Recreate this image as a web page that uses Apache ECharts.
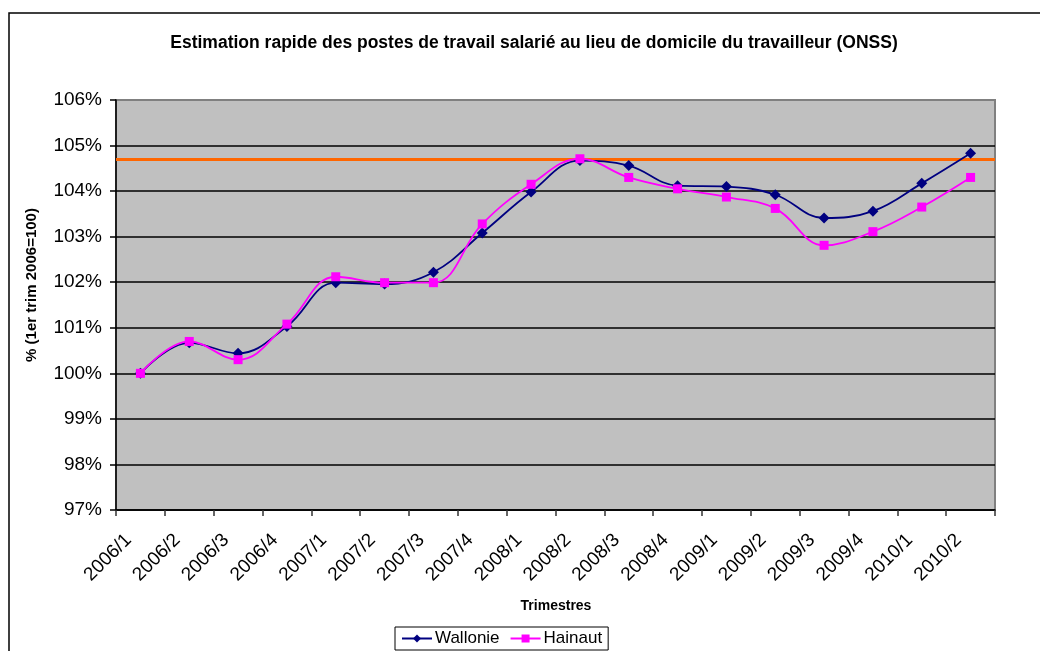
<!DOCTYPE html>
<html>
<head>
<meta charset="utf-8">
<title>Estimation rapide des postes de travail salarié</title>
<script src="https://cdn.jsdelivr.net/npm/echarts@6/dist/echarts.min.js"></script>
<style>
  html, body { margin: 0; padding: 0; background: #fff; }
  #chart { width: 1040px; height: 651px; }
</style>
</head>
<body>
<div id="chart"></div>
<script>
// trimestres
var categories = ['2006/1', '2006/2', '2006/3', '2006/4', '2007/1', '2007/2', '2007/3', '2007/4',
  '2008/1', '2008/2', '2008/3', '2008/4', '2009/1', '2009/2', '2009/3', '2009/4', '2010/1', '2010/2'];

// indices (1er trim 2006 = 100)
var wallonie = [100.0, 100.67, 100.44, 101.03, 101.99, 101.96, 102.22, 103.08,
  103.98, 104.67, 104.56, 104.12, 104.10, 103.92, 103.41, 103.56, 104.17, 104.83];
var hainaut = [100.0, 100.70, 100.30, 101.08, 102.12, 101.99, 101.99, 103.28,
  104.15, 104.71, 104.30, 104.05, 103.87, 103.62, 102.81, 103.11, 103.65, 104.30];

// niveau de référence (ligne orange)
var refLevel = [104.7];

// graduations de l'axe Y
var yTicks = [97, 98, 99, 100, 101, 102, 103, 104, 105, 106];

var FONT = '"Liberation Sans", Arial, sans-serif';

var chart = echarts.init(document.getElementById('chart'), null, { renderer: 'canvas' });

// la dernière ligne (106%) se confond avec le bord gris de la zone de traçage
var gridColors = yTicks.map(function (v, i) {
  return i === yTicks.length - 1 ? '#808080' : '#000000';
});

chart.setOption({
  backgroundColor: '#ffffff',
  animation: false,
  textStyle: { fontFamily: FONT },
  graphic: [
    {
      type: 'rect',
      shape: { x: 9, y: 13, width: 1100, height: 700 },
      style: { fill: 'none', stroke: '#000', lineWidth: 1.5 },
      z: 0
    },
    {
      type: 'text',
      x: 534, y: 43,
      style: {
        text: 'Estimation rapide des postes de travail salarié au lieu de domicile du travailleur (ONSS)',
        font: 'bold 17.5px ' + FONT,
        fill: '#000',
        align: 'center',
        verticalAlign: 'middle'
      }
    },
    {
      type: 'text',
      x: 32, y: 285,
      rotation: Math.PI / 2,
      style: {
        text: '% (1er trim 2006=100)',
        font: 'bold 15px ' + FONT,
        fill: '#000',
        align: 'center',
        verticalAlign: 'middle'
      }
    },
    {
      type: 'text',
      x: 556, y: 606,
      style: {
        text: 'Trimestres',
        font: 'bold 14px ' + FONT,
        fill: '#000',
        align: 'center',
        verticalAlign: 'middle'
      }
    }
  ],
  legend: {
    left: 395,
    top: 627,
    orient: 'horizontal',
    borderColor: '#000',
    borderWidth: 1,
    padding: [3, 6, 3, 6],
    itemWidth: 30,
    itemHeight: 10,
    itemGap: 10,
    textStyle: { fontFamily: FONT, fontSize: 17, color: '#000', padding: [0, 0, 0, -2] },
    data: ['Wallonie', 'Hainaut']
  },
  grid: {
    left: 116,
    top: 100,
    right: 45,
    bottom: 141,
    show: true,
    backgroundColor: '#c0c0c0',
    borderColor: '#808080',
    borderWidth: 2,
    containLabel: false
  },
  xAxis: {
    type: 'category',
    data: categories,
    boundaryGap: true,
    axisLine: { lineStyle: { color: '#000', width: 1.5 } },
    axisTick: { show: true, length: 6, inside: false, lineStyle: { color: '#333', width: 1.5 } },
    axisLabel: {
      rotate: 45,
      interval: 0,
      margin: 15,
      padding: [0, 17, 0, 0],
      fontFamily: FONT,
      fontSize: 19,
      color: '#000'
    },
    splitLine: { show: false }
  },
  yAxis: {
    type: 'value',
    min: yTicks[0],
    max: yTicks[yTicks.length - 1],
    interval: 1,
    axisLine: { show: true, lineStyle: { color: '#000', width: 1.5 } },
    axisTick: { show: true, length: 6, lineStyle: { color: '#000', width: 1.5 } },
    axisLabel: {
      formatter: '{value}%',
      margin: 14,
      fontFamily: FONT,
      fontSize: 19,
      color: '#000'
    },
    splitLine: { show: true, lineStyle: { color: gridColors, width: 1.5 } }
  },
  series: [
    {
      name: 'Wallonie',
      type: 'line',
      data: wallonie,
      smooth: 0.4,
      symbol: 'diamond',
      symbolSize: 11,
      color: '#000080',
      lineStyle: { color: '#000080', width: 1.8 },
      itemStyle: { color: '#000080' },
      z: 3,
      markLine: {
        silent: true,
        symbol: ['none', 'none'],
        label: { show: false },
        lineStyle: { color: '#ff6600', width: 3, type: 'solid' },
        data: [{ yAxis: refLevel[0] }],
        z: 2
      }
    },
    {
      name: 'Hainaut',
      type: 'line',
      data: hainaut,
      smooth: 0.4,
      symbol: 'rect',
      symbolSize: 9,
      color: '#ff00ff',
      lineStyle: { color: '#ff00ff', width: 1.8 },
      itemStyle: { color: '#ff00ff' },
      z: 4
    }
  ]
});
</script>
</body>
</html>
